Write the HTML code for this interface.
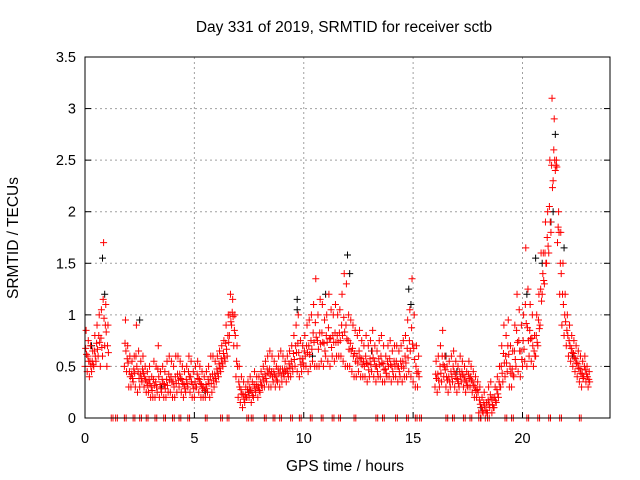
<!DOCTYPE html>
<html><head><meta charset="utf-8"><style>
body{margin:0;background:#fff}
svg{display:block;font-family:"Liberation Sans",sans-serif}
</style></head><body>
<svg id="chart" width="640" height="480">
<rect width="640" height="480" fill="#fff"/>
<text x="344" y="32" text-anchor="middle" font-size="15.5">Day 331 of 2019, SRMTID for receiver sctb</text>
<text x="345" y="471" text-anchor="middle" font-size="15.5">GPS time / hours</text>
<text x="18" y="238" text-anchor="middle" font-size="15.5" transform="rotate(-90 18 238)">SRMTID / TECUs</text>
<g id="grid"></g>
<g id="black"></g>
<g id="red"></g>
<rect x="85" y="57" width="525" height="361" fill="none" stroke="#000" stroke-width="1"/>
</svg>
<script>
const xTicks=[0,5,10,15,20];
const yTicks=[0,0.5,1,1.5,2,2.5,3,3.5];
const yTickLabels=["0","0.5","1","1.5","2","2.5","3","3.5"];
const segStarts=[0.0,1.8,5.9,7.0,9.4,16.0,18.0,20.5];
const segLo=[
[.5,.45,.4,.45,.5,.55,.6,.5,.6,.7,.5],
[.5,.45,.3,.3,.35,.3,.25,.3,.35,.3,.25,.25,.2,.2,.2,.25,.2,.25,.2,.2,.25,.25,.2,.2,.25,.3,.25,.2,.25,.3,.25,.2,.2,.3,.25,.2,.2,.2,.25,.2,.25],
[.3,.35,.4,.45,.5,.55,.6,.8,.9,.7,.4],
[.2,.15,.1,.15,.2,.2,.15,.2,.25,.2,.25,.3,.3,.35,.3,.3,.35,.3,.35,.3,.35,.4,.35,.4],
[.4,.45,.5,.45,.4,.45,.5,.5,.45,.5,.55,.5,.5,.5,.55,.5,.6,.55,.5,.6,.55,.6,.6,.6,.55,.5,.5,.5,.45,.4,.4,.45,.4,.4,.4,.35,.4,.45,.4,.35,.4,.4,.35,.35,.4,.4,.35,.4,.4,.35,.4,.35,.4,.4,.45,.4,.35,.3,.3],
[.3,.25,.3,.35,.4,.3,.25,.3,.35,.3,.25,.3,.35,.3,.25,.3,.3,.25,.2,.2],
[.05,0,.05,0,.05,.1,.05,.1,.15,.2,.3,.35,.4,.45,.3,.3,.4,.5,.45,.4,.5,.55,.5,.6,.55],
[.5,.6,.7,.9,1.2,1.3,1.5,1.6,1.8,2.3,2.4,1.7,1.2,.9,.8,.7,.6,.55,.5,.45,.4,.35,.3,.4,.35,.3]
];
const segHi=[
[.85,.75,.7,.65,.8,.9,1.0,1.05,1.7,1.1,.9],
[.95,.7,.6,.55,.6,.9,.65,.55,.6,.5,.45,.5,.4,.55,.5,.7,.45,.5,.45,.55,.6,.55,.5,.6,.6,.55,.5,.45,.5,.6,.55,.45,.5,.55,.5,.45,.4,.45,.5,.6,.6],
[.55,.6,.65,.7,.75,.9,1.0,1.2,1.15,1.0,.7],
[.5,.4,.35,.3,.35,.4,.35,.45,.4,.4,.45,.5,.55,.6,.65,.6,.55,.5,.6,.65,.6,.55,.6,.65],
[.7,.8,.9,1.0,.75,.7,.8,.9,.95,1.0,1.1,1.35,1.0,1.15,1.1,.95,1.0,1.2,1.05,1.0,1.1,1.0,1.05,1.2,1.4,1.3,1.0,.95,.9,.85,.8,.85,.75,.7,.8,.7,.75,.85,.7,.65,.75,.8,.7,.6,.7,.75,.65,.7,.7,.65,.7,.75,.8,.95,1.05,1.35,1.0,.7,.6],
[.55,.6,.7,.85,.6,.5,.55,.6,.65,.55,.5,.6,.55,.5,.45,.55,.5,.45,.4,.35],
[.3,.2,.25,.15,.3,.35,.2,.3,.4,.5,.7,.9,.8,.95,.7,.65,.9,1.2,1.05,.9,1.0,1.65,1.25,1.1,1.0],
[.8,1.0,1.2,1.6,1.6,1.9,2.0,2.5,3.1,2.9,2.5,2.0,1.8,1.5,1.2,1.0,.9,.8,.75,.7,.65,.6,.55,.6,.5,.45]
];
const zeroT=[1.2,1.4,1.8,2.2,2.5,2.8,3.2,3.6,4.0,4.3,4.7,5.5,6.2,6.5,7.4,7.6,8.2,8.6,8.9,9.4,9.8,10.3,10.8,11.3,11.6,12.3,13.3,13.6,14.2,14.7,15.1,15.3,16.5,16.8,17.3,17.6,18.0,18.4,19.2,19.5,20.2,20.7,21.2,21.7,22.6];
const blackT=[0.8,0.9,2.5,9.7,9.7,12.0,12.1,11.0,14.8,14.9,20.9,21.4,21.5,21.3,21.9,20.2,20.6,16.5,18.1,13.1,5.5,3.5,7.5,0.3,10.4,17.0,22.3];
const blackV=[1.55,1.2,0.95,1.15,1.05,1.58,1.4,1.2,1.25,1.1,1.5,2.0,2.75,1.9,1.65,1.2,1.55,0.6,0.1,0.65,0.25,0.3,0.25,0.7,0.6,0.45,0.6];
const NS="http://www.w3.org/2000/svg";
const X=t=>85+t*525/24;
const Y=v=>418-v*361/3.5;
const grid=document.getElementById('grid');
function mk(tag,attrs,parent){const e=document.createElementNS(NS,tag);for(const k in attrs)e.setAttribute(k,attrs[k]);parent.appendChild(e);return e;}
xTicks.forEach(t=>{
  if(t>0){const l=mk('line',{x1:X(t),x2:X(t),y1:57,y2:418,stroke:'#a0a0a0','stroke-dasharray':'2,3'},grid);
  
  }
  const tk=mk('line',{x1:X(t),x2:X(t),y1:418,y2:412,stroke:'#000'},grid);
  
  
  const tx=mk('text',{x:X(t),y:443,'text-anchor':'middle','font-size':'14.5'},grid);
  tx.textContent=t;
  
  
});
yTicks.forEach((v,i)=>{
  if(v>0&&v<3.5){const l=mk('line',{x1:85,x2:610,y1:Y(v),y2:Y(v),stroke:'#a0a0a0','stroke-dasharray':'2,3'},grid);
  
  }
  const tk=mk('line',{x1:85,x2:91,y1:Y(v),y2:Y(v),stroke:'#000'},grid);
  
  
  const tk2=mk('line',{x1:604,x2:610,y1:Y(v),y2:Y(v),stroke:'#000'},grid);
  
  
  const tx=mk('text',{x:76,y:Y(v)+5,'text-anchor':'end','font-size':'14.5'},grid);
  tx.textContent=yTickLabels[i];
  
  
});
function plus(t,v,col,g){
  const x=X(t),y=Y(v);
  const p=mk('path',{d:`M${x-3.5},${y}H${x+3.5}M${x},${y-3.5}V${y+3.5}`,stroke:col,'stroke-width':'1',fill:'none'},g);
  
  
}
const gb=document.getElementById('black'),gr=document.getElementById('red');
for(let i=0;i<blackT.length;i++)plus(blackT[i],blackV[i],'#000',gb);
segStarts.forEach((s,k)=>{
  const lo=segLo[k],hi=segHi[k],n=Math.min(lo.length,hi.length);
  for(let i=0;i<n;i++){
    const t=s+i*0.1;
    plus(t,lo[i],'#ff0000',gr);
    plus(t+0.05,hi[i],'#ff0000',gr);
    plus(t+0.03,(lo[i]+hi[i])/2,'#ff0000',gr);
    plus(t+0.07,(lo[i]*2+hi[i])/3,'#ff0000',gr);
  }
});
zeroT.forEach(t=>{plus(t,0,'#ff0000',gr);plus(t+0.08,0,'#ff0000',gr);});
</script>
</body></html>
